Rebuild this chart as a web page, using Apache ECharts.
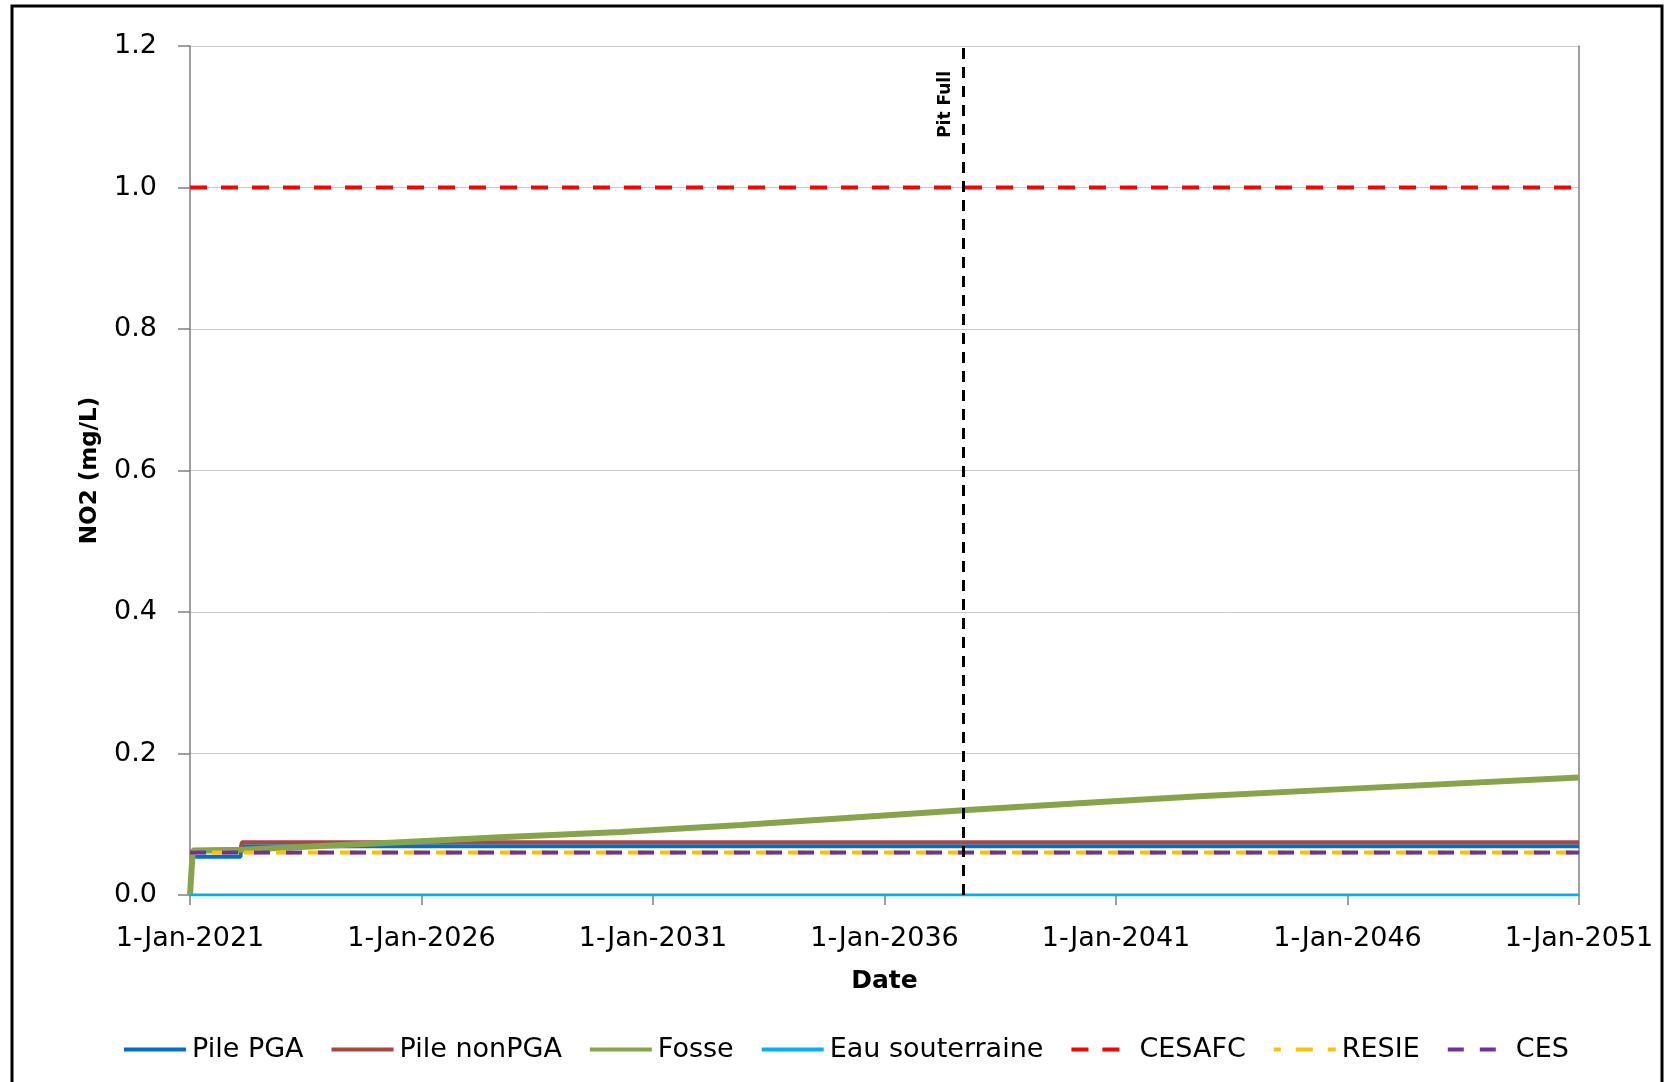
<!DOCTYPE html>
<html>
<head>
<meta charset="utf-8">
<script src="https://cdn.jsdelivr.net/npm/echarts@6/dist/echarts.min.js"></script>
<style>
html,body{margin:0;padding:0;background:#fff;}
#chart{width:1669px;height:1082px;}
</style>
</head>
<body>
<div id="chart"></div>
<script>
// ---- data (x = years since 1-Jan-2021) ----
const START_YEAR = 2021;
const xTickLabels = ['1-Jan-2021','1-Jan-2026','1-Jan-2031','1-Jan-2036','1-Jan-2041','1-Jan-2046','1-Jan-2051'];
const yTickLabels = ['0.0','0.2','0.4','0.6','0.8','1.0','1.2'];
const seriesNames = ['Pile PGA','Pile nonPGA','Fosse','Eau souterraine','CESAFC','RESIE','CES'];

const pilePgaX = [0, 1.09, 1.11, 30];
const pilePgaY = [0.054, 0.054, 0.069, 0.069];

const pileNonPgaX = [0, 1.08, 1.12, 30];
const pileNonPgaY = [0.062, 0.062, 0.0745, 0.0745];

const fosseX = [0, 0.06, 1.1, 4.1, 6.7, 9.3, 11.9, 16.7, 19.2, 21.8, 25, 30];
const fosseY = [0, 0.063, 0.064, 0.073, 0.0815, 0.089, 0.099, 0.1198, 0.1296, 0.1395, 0.150, 0.166];

const eauX = [0, 30];
const eauY = [0, 0];

const cesafcX = [0, 30];
const cesafcY = [1.0, 1.0];

const resieX = [0, 30];
const resieY = [0.06, 0.06];

const cesX = [0, 30];
const cesY = [0.06, 0.06];

const pitFullX = 16.71;
const pitFullLabel = 'Pit Full';

// ---- build ----
function pairs(xs, ys){ return xs.map((x,i)=>[x, ys[i]]); }

const FONT = 'DejaVu Sans';
const chart = echarts.init(document.getElementById('chart'), null, {renderer:'canvas'});

function lineSeries(name, xs, ys, color, width, dash, offset){
  return {
    name: name, type: 'line', data: pairs(xs, ys),
    symbol: 'none', showSymbol: false, animation: false, silent: true,
    lineStyle: {color: color, width: width, type: dash || 'solid', dashOffset: offset || 0, cap: 'butt'},
    itemStyle: {color: color}
  };
}

const series = [
  lineSeries(seriesNames[0], pilePgaX, pilePgaY, '#0070C0', 4),
  lineSeries(seriesNames[1], pileNonPgaX, pileNonPgaY, '#A94744', 4),
  lineSeries(seriesNames[2], fosseX, fosseY, '#86A44A', 6),
  lineSeries(seriesNames[3], eauX, eauY, '#00B0F0', 3),
  lineSeries(seriesNames[4], cesafcX, cesafcY, '#FF0000', 4, [17, 14]),
  lineSeries(seriesNames[5], resieX, resieY, '#FFC000', 4, [17, 15], 10),
  lineSeries(seriesNames[6], cesX, cesY, '#7030A0', 4, [16, 16]),
  {
    name: pitFullLabel, type: 'line', data: [], animation: false, silent: true,
    markLine: {
      silent: true, animation: false, symbol: ['none','none'],
      lineStyle: {color: '#000', width: 3, type: [11, 8]},
      label: {
        show: true, formatter: pitFullLabel, position: 'insideEndTop',
        fontFamily: FONT, fontWeight: 'bold', fontSize: 17, color: '#000',
        distance: [25, 10]
      },
      data: [[{coord: [pitFullX, 0]}, {coord: [pitFullX, 1.2]}]]
    }
  }
];

const option = {
  backgroundColor: '#fff',
  animation: false,
  textStyle: {fontFamily: FONT},
  grid: {left: 190, right: 90, top: 46, bottom: 187, outerBoundsMode: 'none', containLabel: false},
  legend: {
    data: seriesNames, left: 122, top: 1036, orient: 'horizontal', padding: 0,
    itemWidth: 62, itemHeight: 14, itemGap: 26,
    itemStyle: {opacity: 0, borderWidth: 0},
    lineStyle: {width: 4},
    textStyle: {fontFamily: FONT, fontSize: 27, color: '#000', padding: [0,0,0,1]},
    selectedMode: false
  },
  xAxis: {
    type: 'value', min: 0, max: 30, interval: 5,
    name: 'Date', nameLocation: 'middle', nameGap: 74,
    nameTextStyle: {fontFamily: FONT, fontWeight: 'bold', fontSize: 25, color: '#000'},
    axisLine: {show: true, lineStyle: {color: '#7f7f7f', width: 1.5}},
    axisTick: {show: true, inside: false, length: 10, lineStyle: {color: '#7f7f7f', width: 1.5}},
    axisLabel: {
      fontFamily: FONT, fontSize: 27, color: '#000', margin: 30,
      formatter: v => xTickLabels[Math.round(v/5)]
    },
    splitLine: {show: false}
  },
  yAxis: [{
    type: 'value', min: 0, max: 1.2, interval: 0.2,
    name: 'NO2 (mg/L)', nameLocation: 'middle', nameGap: 88, nameRotate: 90,
    nameTextStyle: {fontFamily: FONT, fontWeight: 'bold', fontSize: 23, color: '#000'},
    axisLine: {show: true, lineStyle: {color: '#7f7f7f', width: 1.5}},
    axisTick: {show: true, inside: false, length: 12, lineStyle: {color: '#7f7f7f', width: 1.5}},
    axisLabel: {
      fontFamily: FONT, fontSize: 27, color: '#000', margin: 33,
      formatter: v => yTickLabels[Math.round(v/0.2)]
    },
    splitLine: {show: true, lineStyle: {color: '#c8c8c8', width: 1}}
  }, {
    type: 'value', min: 0, max: 1.2, interval: 0.2, position: 'right',
    axisLine: {show: true, lineStyle: {color: '#7f7f7f', width: 1.5}},
    axisTick: {show: false}, axisLabel: {show: false}, splitLine: {show: false}
  }],
  series: series,
  graphic: [{
    type: 'rect', silent: true, z: 100,
    shape: {x: 12, y: 6, width: 1650, height: 1110},
    style: {fill: 'none', stroke: '#000', lineWidth: 3}
  }]
};
chart.setOption(option);
</script>
</body>
</html>
